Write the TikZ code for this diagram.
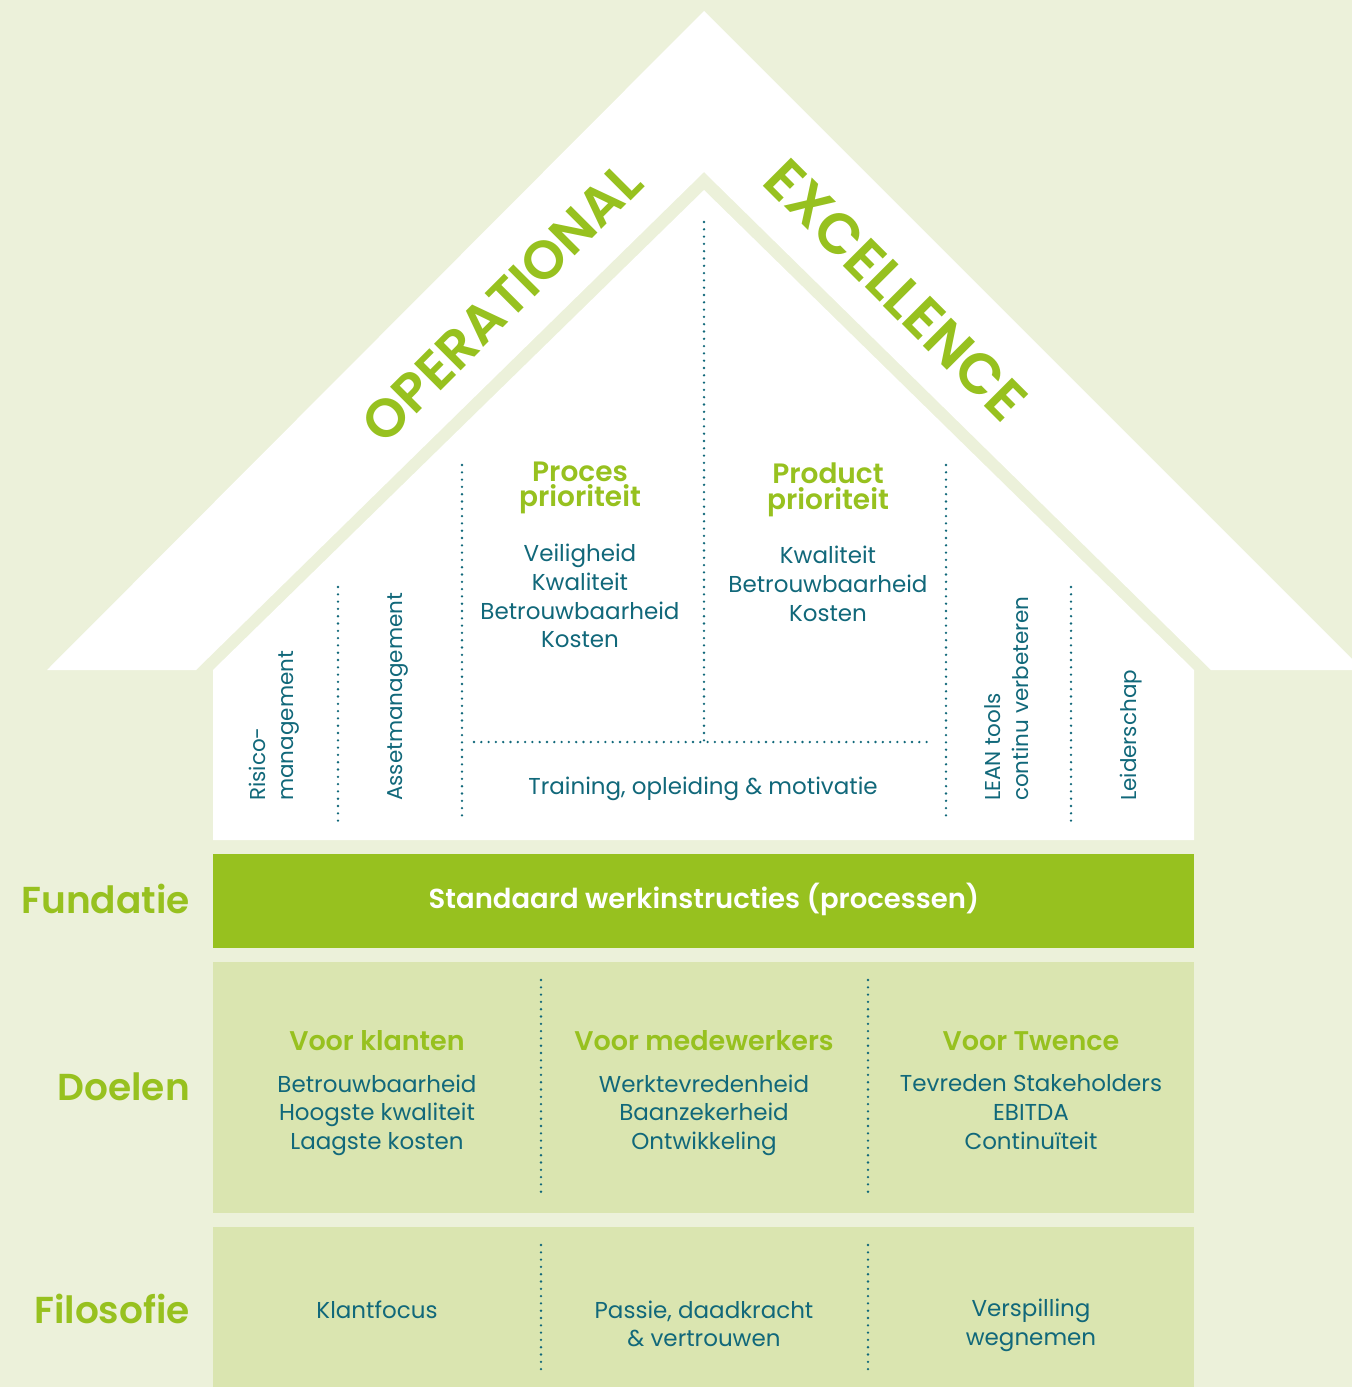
\documentclass[tikz,border=0pt]{standalone}
\usepackage{fontspec}
\setmainfont{Poppins}[BoldFont={Poppins SemiBold}]
\definecolor{bgc}{HTML}{ECF1DA}
\definecolor{panel}{HTML}{DAE5B0}
\definecolor{leaf}{HTML}{97C11F}
\definecolor{teal}{HTML}{11687A}
\begin{document}
\begin{tikzpicture}[x=1pt,y=-1pt,
  divider/.style={teal, line width=2.6pt, line cap=round, dash pattern=on 0pt off 7.3pt},
  body/.style={text=teal, align=center, inner sep=0pt, font=\fontsize{23}{28.7}\selectfont},
  vtext/.style={text=teal, align=left, inner sep=0pt, rotate=90, anchor=west, font=\fontsize{21.5}{28}\selectfont},
  head/.style={text=leaf, align=center, inner sep=0pt, font=\fontsize{28}{25.5}\selectfont\bfseries},
  dhead/.style={text=leaf, align=center, inner sep=0pt, font=\fontsize{27}{27}\selectfont\bfseries},
  side/.style={text=leaf, anchor=east, inner sep=0pt, font=\fontsize{37.5}{38}\selectfont\bfseries},
  big/.style={text=leaf, inner sep=0pt, font=\fontsize{54}{54}\selectfont\bfseries}
]
\useasboundingbox (0,0) rectangle (1352,1387);
\fill[bgc] (0,0) rectangle (1352,1387);
\begin{scope}
\clip (0,0) rectangle (1352,1387);
% outer roof
\fill[white] (704,11) -- (1363,670) -- (1211,670) -- (704,172) -- (196,670) -- (47,670) -- cycle;
\end{scope}
% inner house
\fill[white] (704,190) -- (1194,670) -- (1194,840) -- (213,840) -- (213,670) -- cycle;
% bars
\fill[leaf] (213,854) rectangle (1194,948);
\fill[panel] (213,962) rectangle (1194,1213);
\fill[panel] (213,1227) rectangle (1194,1387);

% roof titles
\node[big, rotate=45] (op) at (502,303) {OPERATIONAL};
\node[big, rotate=-45, font=\fontsize{57}{57}\selectfont\bfseries] (ex) at (896,290) {EXCELLENCE};

% dividers inside house
\draw[divider] (338,587) -- (338,822);
\draw[divider] (462,465) -- (462,822);
\draw[divider] (704,222) -- (704,742);
\draw[divider] (474,742) -- (930,742);
\draw[divider] (946,465) -- (946,822);
\draw[divider] (1071,587) -- (1071,822);

% house texts
\node[head] (proces) at (580,488) {Proces\\prioriteit};
\node[head] (product) at (828,490) {Product\\prioriteit};
\node[body] (pl) at (580,596) {Veiligheid\\Kwaliteit\\Betrouwbaarheid\\Kosten};
\node[body] (prl) at (828,584) {Kwaliteit\\Betrouwbaarheid\\Kosten};
\node[body] (train) at (703,789) {Training, opleiding \& motivatie};
\node[vtext] (risk) at (274,801) {Risico-\\management};
\node[vtext] (asset) at (398,801) {Assetmanagement};
\node[vtext] (lean) at (1007,801) {LEAN tools\\continu verbeteren};
\node[vtext] (leid) at (1131,801) {Leiderschap};

% side labels
\node[side] (fund) at (190,899) {Fundatie};
\node[side] (doel) at (190,1087) {Doelen};
\node[side] (filo) at (190,1309) {Filosofie};

% foundation
\node[text=white, inner sep=0pt, font=\fontsize{27.5}{27.5}\selectfont\bfseries] (std) at (704,899) {Standaard werkinstructies (processen)};

% doelen
\draw[divider] (541,980) -- (541,1195);
\draw[divider] (868,980) -- (868,1195);
\node[dhead] (vk) at (377,1041) {Voor klanten};
\node[dhead] (vm) at (704,1041) {Voor medewerkers};
\node[dhead] (vt) at (1031,1041) {Voor Twence};
\node[body, text depth=0pt] (vkl) at (377,1112) {Betrouwbaarheid\\Hoogste kwaliteit\\Laagste kosten};
\node[body, text depth=0pt] (vml) at (704,1112) {Werktevredenheid\\Baanzekerheid\\Ontwikkeling};
\node[body, text depth=0pt] (vtl) at (1031,1112) {Tevreden Stakeholders\\EBITDA\\Continuïteit};

% filosofie
\draw[divider] (541,1245) -- (541,1375);
\draw[divider] (868,1245) -- (868,1375);
\node[body] (kf) at (377,1310) {Klantfocus};
\node[body] (pas) at (704,1324) {Passie, daadkracht\\\& vertrouwen};
\node[body] (ver) at (1031,1325) {Verspilling\\wegnemen};
\end{tikzpicture}
\end{document}
